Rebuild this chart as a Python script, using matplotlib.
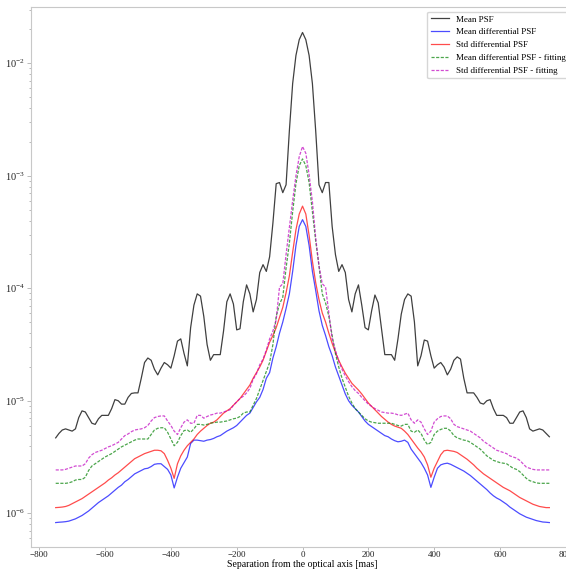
import numpy as np
import matplotlib
matplotlib.use('Agg')
import matplotlib.pyplot as plt

plt.rcParams['font.family'] = ['Liberation Serif', 'DejaVu Serif']
plt.rcParams['mathtext.fontset'] = 'stix'

# separation grid [mas]
sep = np.arange(-750, 751, 10)

# log10 of the profiles
log_mean_psf = [
    -5.33, -5.29, -5.26, -5.25, -5.26, -5.27, -5.25, -5.15, -5.09, -5.10,
    -5.15, -5.20, -5.21, -5.16, -5.13, -5.13, -5.13, -5.07, -4.99, -5.00,
    -5.03, -5.03, -4.97, -4.935, -4.93, -4.93, -4.80, -4.66, -4.62, -4.64,
    -4.72, -4.77, -4.71, -4.66, -4.68, -4.71, -4.60, -4.47, -4.45, -4.58,
    -4.69, -4.35, -4.15, -4.05, -4.07, -4.25, -4.50, -4.64, -4.59, -4.59,
    -4.59, -4.38, -4.12, -4.05, -4.14, -4.37, -4.36, -4.12, -3.97, -4.05,
    -4.21, -4.10, -3.86, -3.79, -3.85, -3.72, -3.42, -3.07, -3.06, -3.15,
    -3.08, -2.60, -2.18, -1.93, -1.79,
    -1.726,
    -1.79, -1.93, -2.18, -2.60, -3.08,
    -3.15, -3.06, -3.06, -3.45, -3.70, -3.85, -3.79, -3.86, -4.10, -4.21,
    -4.05, -3.97, -4.15, -4.35, -4.37, -4.20, -4.06, -4.13, -4.36, -4.59,
    -4.59, -4.59, -4.64, -4.45, -4.23, -4.10, -4.05, -4.07, -4.30, -4.69,
    -4.60, -4.46, -4.47, -4.60, -4.71, -4.68, -4.66, -4.70, -4.77, -4.72,
    -4.64, -4.61, -4.63, -4.80, -4.93, -4.93, -4.93, -4.97, -5.02, -5.03,
    -5.00, -4.99, -5.07, -5.13, -5.13, -5.13, -5.15, -5.20, -5.20, -5.15,
    -5.10, -5.09, -5.15, -5.25, -5.27, -5.26, -5.25, -5.26, -5.29, -5.32,
]

log_mean_diff = [
    -6.083, -6.08, -6.078, -6.075, -6.07, -6.06, -6.05, -6.035, -6.02, -6.00,
    -5.98, -5.955, -5.93, -5.905, -5.885, -5.865, -5.845, -5.82, -5.795, -5.77,
    -5.75, -5.72, -5.70, -5.675, -5.65, -5.635, -5.62, -5.605, -5.60, -5.585,
    -5.565, -5.56, -5.56, -5.585, -5.61, -5.66, -5.775, -5.68, -5.60, -5.55,
    -5.50, -5.38, -5.35, -5.35, -5.355, -5.36, -5.35, -5.345, -5.335, -5.32,
    -5.31, -5.29, -5.27, -5.255, -5.24, -5.22, -5.19, -5.16, -5.13, -5.11,
    -5.06, -5.01, -4.97, -4.90, -4.80, -4.75, -4.62, -4.52, -4.40, -4.30,
    -4.18, -4.05, -3.85, -3.62, -3.45,
    -3.39,
    -3.45, -3.62, -3.85, -4.02, -4.20,
    -4.33, -4.42, -4.52, -4.60, -4.70, -4.78, -4.86, -4.94, -5.00, -5.04,
    -5.07, -5.10, -5.14, -5.18, -5.21, -5.23, -5.25, -5.27, -5.29, -5.31,
    -5.32, -5.34, -5.355, -5.365, -5.36, -5.35, -5.37, -5.43, -5.47, -5.51,
    -5.55, -5.60, -5.66, -5.77, -5.68, -5.60, -5.57, -5.56, -5.555, -5.565,
    -5.58, -5.595, -5.61, -5.625, -5.645, -5.665, -5.69, -5.715, -5.74, -5.765,
    -5.79, -5.82, -5.845, -5.865, -5.88, -5.90, -5.92, -5.945, -5.965, -5.985,
    -6.005, -6.02, -6.035, -6.045, -6.055, -6.065, -6.072, -6.078, -6.08, -6.083,
]

log_std_diff = [
    -5.95, -5.948, -5.945, -5.94, -5.93, -5.915, -5.90, -5.885, -5.87, -5.85,
    -5.83, -5.81, -5.79, -5.77, -5.75, -5.73, -5.705, -5.685, -5.66, -5.64,
    -5.615, -5.59, -5.565, -5.54, -5.515, -5.50, -5.485, -5.47, -5.46, -5.45,
    -5.44, -5.44, -5.445, -5.47, -5.53, -5.60, -5.69, -5.56, -5.49, -5.44,
    -5.40, -5.37, -5.34, -5.30, -5.27, -5.245, -5.22, -5.20, -5.19, -5.17,
    -5.14, -5.11, -5.09, -5.07, -5.04, -5.01, -4.98, -4.94, -4.90, -4.86,
    -4.80, -4.75, -4.70, -4.64, -4.56, -4.48, -4.42, -4.35, -4.26, -4.17,
    -4.04, -3.89, -3.68, -3.48, -3.34,
    -3.27,
    -3.34, -3.53, -3.76, -3.95, -4.10,
    -4.22, -4.30, -4.40, -4.49, -4.57, -4.64, -4.70, -4.755, -4.80, -4.845,
    -4.875, -4.905, -4.94, -4.98, -5.02, -5.05, -5.08, -5.11, -5.14, -5.165,
    -5.19, -5.21, -5.225, -5.235, -5.245, -5.27, -5.30, -5.34, -5.38, -5.42,
    -5.455, -5.50, -5.57, -5.68, -5.60, -5.54, -5.48, -5.445, -5.44, -5.445,
    -5.45, -5.46, -5.48, -5.50, -5.52, -5.545, -5.57, -5.60, -5.625, -5.65,
    -5.67, -5.69, -5.71, -5.73, -5.75, -5.77, -5.785, -5.80, -5.82, -5.84,
    -5.86, -5.875, -5.89, -5.905, -5.92, -5.93, -5.94, -5.945, -5.95, -5.95,
]

log_mean_diff_fit = [
    -5.734, -5.734, -5.734, -5.734, -5.73, -5.72, -5.705, -5.70, -5.70, -5.68,
    -5.62, -5.58, -5.56, -5.54, -5.52, -5.50, -5.485, -5.47, -5.45, -5.43,
    -5.41, -5.395, -5.38, -5.365, -5.35, -5.34, -5.34, -5.34, -5.34, -5.30,
    -5.26, -5.245, -5.24, -5.24, -5.28, -5.34, -5.40, -5.37, -5.31, -5.265,
    -5.26, -5.28, -5.25, -5.21, -5.21, -5.216, -5.21, -5.20, -5.195, -5.19,
    -5.19, -5.185, -5.18, -5.17, -5.16, -5.155, -5.14, -5.11, -5.10, -5.10,
    -5.04, -4.98, -4.90, -4.82, -4.74, -4.66, -4.50, -4.25, -4.14, -4.08,
    -3.82, -3.60, -3.32, -3.07, -2.91,
    -2.85,
    -2.91, -3.06, -3.32, -3.58, -3.80,
    -4.05, -4.13, -4.25, -4.42, -4.58, -4.70, -4.80, -4.88, -4.96, -5.02,
    -5.07, -5.10, -5.13, -5.16, -5.18, -5.19, -5.195, -5.20, -5.20, -5.20,
    -5.20, -5.20, -5.21, -5.22, -5.225, -5.21, -5.21, -5.27, -5.28, -5.26,
    -5.29, -5.35, -5.39, -5.37, -5.30, -5.27, -5.255, -5.245, -5.245, -5.27,
    -5.31, -5.33, -5.34, -5.35, -5.355, -5.37, -5.39, -5.41, -5.43, -5.46,
    -5.49, -5.51, -5.53, -5.54, -5.55, -5.555, -5.56, -5.58, -5.60, -5.61,
    -5.63, -5.66, -5.69, -5.71, -5.72, -5.73, -5.734, -5.734, -5.734, -5.734,
]

log_std_diff_fit = [
    -5.615, -5.615, -5.615, -5.61, -5.60, -5.59, -5.58, -5.58, -5.58, -5.56,
    -5.51, -5.48, -5.46, -5.45, -5.44, -5.425, -5.41, -5.40, -5.385, -5.37,
    -5.34, -5.31, -5.295, -5.275, -5.26, -5.255, -5.25, -5.24, -5.22, -5.18,
    -5.15, -5.14, -5.135, -5.135, -5.18, -5.22, -5.27, -5.30, -5.24, -5.19,
    -5.17, -5.20, -5.20, -5.13, -5.13, -5.155, -5.14, -5.127, -5.12, -5.11,
    -5.11, -5.10, -5.09, -5.08, -5.04, -5.01, -4.98, -4.96, -4.93, -4.89,
    -4.81, -4.76, -4.68, -4.63, -4.55, -4.45, -4.38, -4.28, -3.99, -3.96,
    -3.70, -3.46, -3.22, -3.00, -2.83,
    -2.74,
    -2.80, -2.99, -3.23, -3.55, -3.80,
    -3.96, -3.99, -4.22, -4.45, -4.55, -4.65, -4.72, -4.78, -4.83, -4.875,
    -4.91, -4.935, -4.97, -5.00, -5.03, -5.05, -5.07, -5.085, -5.10, -5.105,
    -5.11, -5.11, -5.115, -5.125, -5.13, -5.12, -5.11, -5.17, -5.20, -5.17,
    -5.19, -5.25, -5.30, -5.27, -5.19, -5.16, -5.14, -5.135, -5.135, -5.16,
    -5.21, -5.23, -5.24, -5.25, -5.26, -5.27, -5.29, -5.31, -5.33, -5.36,
    -5.38, -5.40, -5.42, -5.44, -5.45, -5.46, -5.47, -5.49, -5.50, -5.51,
    -5.53, -5.56, -5.59, -5.60, -5.61, -5.615, -5.615, -5.615, -5.615, -5.615,
]

fig = plt.figure(figsize=(5.66, 5.69), dpi=100)
ax = fig.add_axes([0.0548, 0.0387, 0.9594, 0.9489])

lw = 0.9
ax.plot(sep, 10 ** np.array(log_mean_psf), 'k-', lw=lw, alpha=0.75, label='Mean PSF')
ax.plot(sep, 10 ** np.array(log_mean_diff), 'b-', lw=lw, alpha=0.7, label='Mean differential PSF')
ax.plot(sep, 10 ** np.array(log_std_diff), 'r-', lw=lw, alpha=0.7, label='Std differential PSF')
ax.plot(sep, 10 ** np.array(log_mean_diff_fit), 'g--', lw=lw, alpha=0.7,
        dashes=(2.5, 1.2), label='Mean differential PSF - fitting')
ax.plot(sep, 10 ** np.array(log_std_diff_fit), 'm--', lw=lw, alpha=0.7,
        dashes=(2.5, 1.2), label='Std differential PSF - fitting')

ax.set_yscale('log')
ax.set_xlim(-825, 825)
ax.set_ylim(10 ** -6.30, 10 ** -1.50)
ax.set_xlabel('Separation from the optical axis [mas]', fontsize=7, labelpad=0)

for side in ['left', 'bottom', 'top', 'right']:
    ax.spines[side].set_color('#c8c8c8')
    ax.spines[side].set_linewidth(0.8)
ax.tick_params(which='both', colors='#b0b0b0', labelcolor='#222222', width=0.6)
ax.tick_params(axis='x', which='major', length=2, pad=1, labelsize=6.5)
ax.tick_params(axis='y', which='major', length=3, pad=1.5, labelsize=7.5)
ax.tick_params(axis='y', which='minor', length=1.8)

ax.legend(loc='upper right', fontsize=6.5)

fig.savefig('out.png', dpi=100)
